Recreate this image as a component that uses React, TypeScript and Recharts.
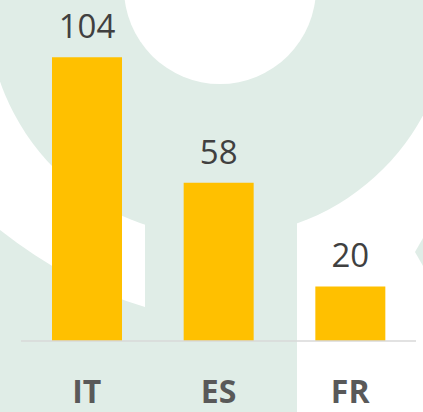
import React from 'react';
import { BarChart, Bar, XAxis, YAxis, LabelList } from 'recharts';

const countries = ['IT', 'ES', 'FR'];
const counts = [104, 58, 20];

const data = countries.map((name, i) => ({ name, value: counts[i] }));

const green = '#E0EDE7';

// decorative logo-like shapes behind the chart
const Backdrop: React.FC = () => (
  <svg width={423} height={412} style={{ position: 'absolute', left: 0, top: 0 }}>
    <rect x={0} y={0} width={423} height={412} fill="#FFFFFF" />
    <circle cx={219} cy={5} r={232} fill={green} />
    <circle cx={220} cy={-12} r={96} fill="#FFFFFF" />
    <rect x={145} y={150} width={152} height={262} fill={green} />
    <path d="M0,230 Q70,285 145,307 L145,412 L0,412 Z" fill={green} />
    <polygon points="423,238 415,252 423,266" fill={green} />
  </svg>
);

const App: React.FC = () => {
  return (
    <div style={{ position: 'absolute', left: 0, top: 0, width: 423, height: 412, fontFamily: '"Open Sans", sans-serif' }}>
      <Backdrop />
      <div style={{ position: 'absolute', left: 0, top: 0 }}>
        <BarChart width={423} height={412} data={data} margin={{ top: 0, right: 7, left: 21, bottom: 0 }}>
          <XAxis
            dataKey="name"
            height={71}
            axisLine={{ stroke: '#D9D9D9', strokeWidth: 1.5 }}
            tickLine={false}
            tickMargin={33}
            tick={{ fill: '#595959', fontSize: 32, fontWeight: 700 }}
          />
          <YAxis hide domain={[0, 125]} />
          <Bar dataKey="value" fill="#FFC000" barSize={70} isAnimationActive={false}>
            <LabelList dataKey="value" position="top" offset={19} fill="#404040" fontSize={33} />
          </Bar>
        </BarChart>
      </div>
    </div>
  );
};

export default App;
